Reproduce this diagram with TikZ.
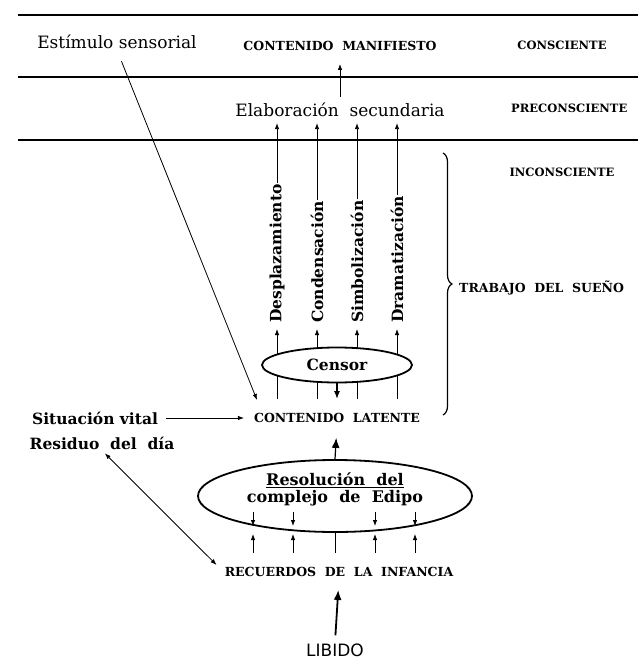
\documentclass[tikz,border=0pt]{standalone}
\usepackage{fontspec}
\setmainfont{DejaVu Serif}
\newfontfamily\libfont{DejaVu Sans}
\usetikzlibrary{arrows.meta,decorations.pathreplacing,calc,shapes.geometric}
\begin{document}
\begin{tikzpicture}[x=1pt,y=-1pt,
  every node/.style={inner sep=1pt},
  reg/.style={font=\fontsize{17}{19}\selectfont},
  bld/.style={font=\fontsize{15.5}{17}\selectfont\bfseries},
  caps/.style={font=\fontsize{12.5}{14}\selectfont\bfseries},
  scaps/.style={font=\fontsize{11.5}{13}\selectfont\bfseries},
  rule/.style={line width=1.8pt},
  conn/.style={line width=0.8pt,-{Latex[length=6pt,width=4.5pt]}},
  plain/.style={line width=0.8pt},
  heavy/.style={line width=1.8pt,-{Latex[length=10pt,width=8pt]}},
  oval/.style={draw,ellipse,line width=1.8pt,fill=white,inner sep=0pt}
]
\useasboundingbox (0,0) rectangle (638,661);

% horizontal rules
\draw[rule] (18,15) -- (638,15);
\draw[rule] (18,77) -- (638,77);
\draw[rule] (18,140) -- (638,140);

% texts
\node[reg] (est) at (117,42) {Estímulo sensorial};
\node[caps] (man) at (340,46) {CONTENIDO\ \ MANIFIESTO};
\node[scaps] (cons) at (562,45) {CONSCIENTE};
\node[reg] (elab) at (340,110) {Elaboración\ \ secundaria};
\node[scaps,anchor=west] (precons) at (510,108) {PRECONSCIENTE};
\node[scaps] (incons) at (562,172) {INCONSCIENTE};
\node[caps,anchor=west] (trab) at (458,288) {TRABAJO\ \ DEL\ \ SUEÑO};

\draw[conn,shorten <=5pt,shorten >=12pt] (elab.north) -- (man.south);

% dream-work labels
\node[bld,rotate=90,anchor=west] (d1) at (277,324) {Desplazamiento};
\node[bld,rotate=90,anchor=west] (d2) at (317,324) {Condensación};
\node[bld,rotate=90,anchor=west] (d3) at (357,324) {Simbolización};
\node[bld,rotate=90,anchor=west] (d4) at (397,324) {Dramatización};

\node[caps] (lat) at (337,418) {CONTENIDO\ \ LATENTE};
\coordinate (lt) at (337,399);

\foreach \d in {d1,d2,d3,d4}{
  \draw[conn,shorten >=5pt] (\d.west |- lt) -- (\d.west);
  \draw[conn,shorten >=5pt] (\d.east) -- (\d.east |- elab.south);
}

\node[oval,bld,minimum width=150pt,minimum height=35pt] (cen) at (337,365) {Censor};
\draw[line width=1.2pt,-{Latex[length=8pt,width=6pt]}] (cen.south) -- (lt);

% brace
\draw[line width=1.2pt,decorate,decoration={brace,amplitude=9pt}] (443,153) -- (443,415);

% left texts
\node[bld] (sit) at (95,418) {Situación vital};
\node[bld] (res) at (102,443) {Residuo\ \ del\ \ día};
\draw[conn,shorten <=7pt,shorten >=9pt] (sit.east) -- (lat.west);

\coordinate (esttip) at (257,400);
\draw[conn,shorten <=12pt] (est.south) -- (esttip);

% Oedipus
\node[oval,minimum width=274pt,minimum height=72pt] (ed) at (335,496) {};
\node[align=center,font=\fontsize{16}{17}\selectfont\bfseries] (edt) at (335,489) {\underline{Resolución\ \ del}\\complejo\ \ de\ \ Edipo};
\draw[heavy,line width=1.2pt,shorten >=14pt] (ed.north) -- (lat.south);

\node[caps] (rec) at (339,572) {RECUERDOS\ \ DE\ \ LA\ \ INFANCIA};
\coordinate (rt) at (335,553);

\foreach \dx in {-82,-42,40,80}{
  \draw[conn] ($(ed.center)+(\dx,16)$) -- ($(ed.center)+(\dx,30)$);
  \draw[conn] ($(rt)+(\dx,0)$) -- ($(rt)+(\dx,-19)$);
}
\draw[plain] (rt) -- (ed.south);

\draw[{Latex[length=6pt,width=4.5pt]}-{Latex[length=6pt,width=4.5pt]},line width=0.8pt,shorten >=10pt,shorten <=4pt] (res.south) -- (rec.west);

\node[font=\libfont\fontsize{17}{19}\selectfont] (lib) at (335,650) {LIBIDO};
\draw[heavy,shorten <=7pt,shorten >=12pt] (lib.north) -- (rec.south);
\end{tikzpicture}
\end{document}
